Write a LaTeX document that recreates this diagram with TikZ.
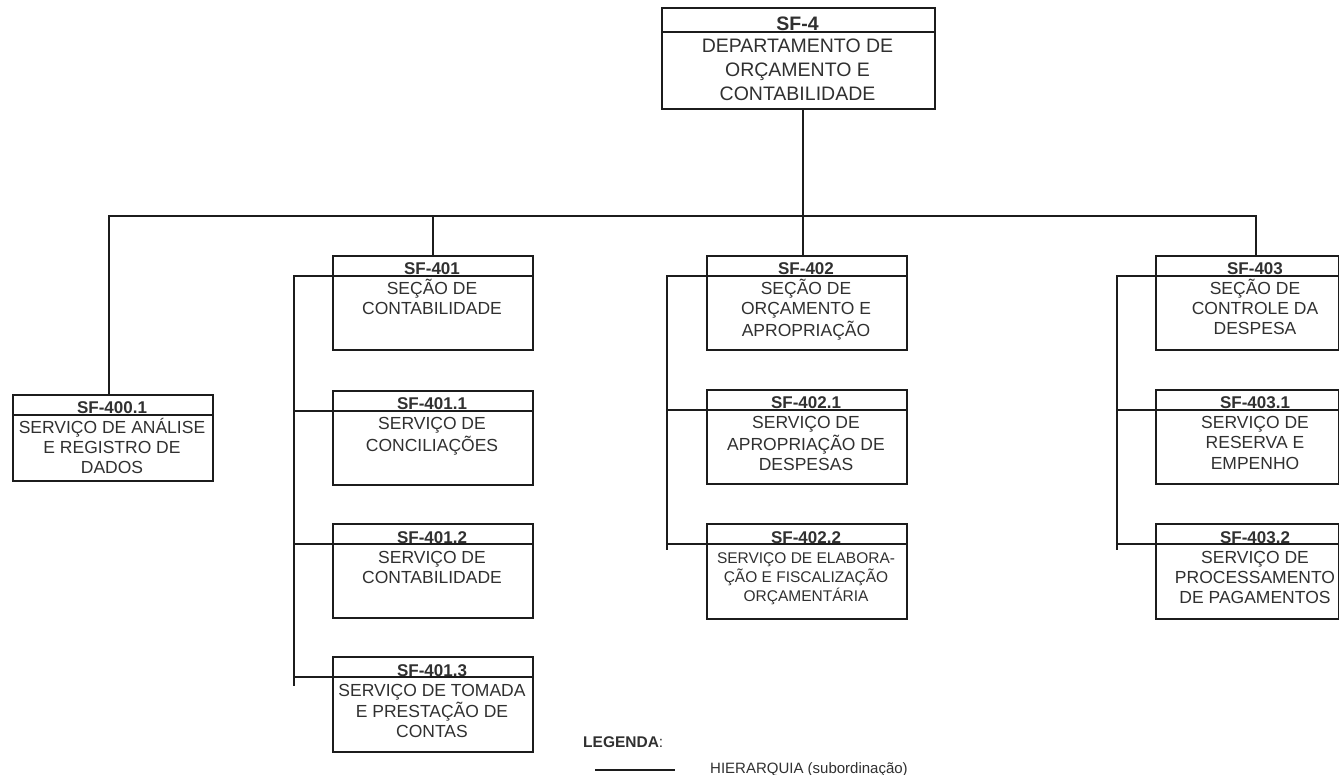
\documentclass[tikz,border=0pt]{standalone}
\usepackage{fontspec}
\setmainfont{Liberation Sans}
\definecolor{ink}{HTML}{1C1C1C}
\definecolor{txt}{HTML}{303030}
\newcommand\lines[1]{\begin{tabular}[t]{@{}c@{}}#1\end{tabular}}
\tikzset{
  hier/.style={draw=ink, line width=1.8pt},
  unitbox/.style={draw=ink, line width=1.8pt, anchor=north west, inner sep=0pt},
  unithead/.style={anchor=base, inner sep=0pt, text=txt, font=\fontsize{17}{20}\selectfont\bfseries},
  unitbody/.style={anchor=base, inner sep=0pt, text=txt, font=\fontsize{17.5}{20}\selectfont},
}
% box with header strip: [body opts] name, left, top, right, bottom, code, title
\newcommand\orgunit[8][]{%
  \node[unitbox, minimum width={(#5-#3)*1pt}, minimum height={(#6-#4)*1pt}] (#2) at (#3,#4) {};
  \coordinate (#2-w) at (#3,#4+21);
  \coordinate (#2-e) at (#5,#4+21);
  \draw[hier] (#2-w) -- (#2-e);
  \node[unithead] (#2-h) at (#3+100,#4+20) {#7};
  \node[unitbody,#1] (#2-b) at (#3+100,#4+40) {\lines{#8}};
}
\begin{document}
\begin{tikzpicture}[x=1pt, y=-1pt]
  \useasboundingbox (0,0) rectangle (1339,775);

  % department
  \node[unitbox, minimum width=273pt, minimum height=101pt] (b4) at (661,7) {};
  \coordinate (b4-w) at (661,32);
  \coordinate (b4-e) at (934,32);
  \draw[hier] (b4-w) -- (b4-e);
  \node[unithead, font=\fontsize{19.5}{24}\selectfont\bfseries] (b4-h) at (797.5,31) {SF-4};
  \node[unitbody, font=\fontsize{19.5}{24}\selectfont] (b4-b) at (797.5,53)
    {\lines{DEPARTAMENTO DE\\ORÇAMENTO E\\CONTABILIDADE}};

  % units
  \orgunit{b4001}{12}{394}{212}{480}{SF-400.1}{SERVIÇO DE ANÁLISE\\E REGISTRO DE\\DADOS}
  \orgunit{b401}{332}{255}{532}{349}{SF-401}{SEÇÃO DE\\CONTABILIDADE}
  \orgunit{b4011}{332}{390}{532}{484}{SF-401.1}{SERVIÇO DE\\CONCILIAÇÕES}
  \orgunit{b4012}{332}{523}{532}{617}{SF-401.2}{SERVIÇO DE\\CONTABILIDADE}
  \orgunit{b4013}{332}{656}{532}{751}{SF-401.3}{SERVIÇO DE TOMADA\\E PRESTAÇÃO DE\\CONTAS}
  \orgunit{b402}{706}{255}{906}{349}{SF-402}{SEÇÃO DE\\ORÇAMENTO E\\APROPRIAÇÃO}
  \orgunit{b4021}{706}{389}{906}{483}{SF-402.1}{SERVIÇO DE\\APROPRIAÇÃO DE\\DESPESAS}
  \orgunit[font=\fontsize{15.5}{19}\selectfont]{b4022}{706}{523}{906}{618}{SF-402.2}{SERVIÇO DE ELABORA-\\ÇÃO E FISCALIZAÇÃO\\ORÇAMENTÁRIA}
  \orgunit{b403}{1155}{255}{1338}{349}{SF-403}{SEÇÃO DE\\CONTROLE DA\\DESPESA}
  \orgunit{b4031}{1155}{389}{1338}{483}{SF-403.1}{SERVIÇO DE\\RESERVA E\\EMPENHO}
  \orgunit{b4032}{1155}{523}{1338}{618}{SF-403.2}{SERVIÇO DE\\PROCESSAMENTO\\DE PAGAMENTOS}

  % main bus
  \coordinate (busL) at (109,216);
  \coordinate (busM) at (803,216);
  \coordinate (busR) at (1256,216);
  \draw[hier] (busM |- b4.south) -- (busM);
  \draw[hier] (busL |- b4001.north) -- (busL) -- (busR) -- (busR |- b403.north);
  \draw[hier] (b401.north) -- (b401.north |- busL);
  \draw[hier] (busM) -- (busM |- b402.north);

  % section buses
  \coordinate (s401) at (294,686);
  \coordinate (s402) at (667,550);
  \coordinate (s403) at (1117,550);
  \draw[hier] (b401-w) -- (b401-w -| s401) -- (s401);
  \draw[hier] (b402-w) -- (b402-w -| s402) -- (s402);
  \draw[hier] (b403-w) -- (b403-w -| s403) -- (s403);
  \foreach \u in {b4011,b4012,b4013}
    \draw[hier] (\u-w -| s401) -- (\u-w);
  \foreach \u in {b4021,b4022}
    \draw[hier] (\u-w -| s402) -- (\u-w);
  \foreach \u in {b4031,b4032}
    \draw[hier] (\u-w -| s403) -- (\u-w);

  % legend
  \node[anchor=base west, inner sep=0pt, text=txt, font=\fontsize{15.5}{18}\selectfont] (leg) at (583,747) {\textbf{LEGENDA}:};
  \coordinate (hl1) at (595,770);
  \coordinate (hl2) at (675,770);
  \draw[hier] (hl1) -- (hl2);
  \node[anchor=base west, inner sep=0pt, text=txt, font=\fontsize{15}{18}\selectfont] (hiertxt) at (710,773) {HIERARQUIA (subordinação)};
\end{tikzpicture}
\end{document}
